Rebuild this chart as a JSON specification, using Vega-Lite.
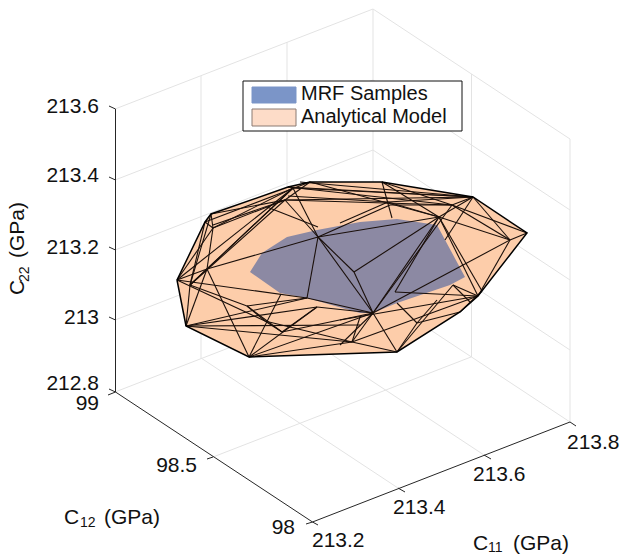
{
"$schema":"https://vega.github.io/schema/vega-lite/v6.json",
"width":622,"height":555,"padding":0,"autosize":{"type":"none"},
"background":"white","view":{"stroke":null},
"config":{"text":{"font":"Liberation Sans","fontSize":21,"color":"#111111"}},
"datasets":{
"grid":[
{"a":115,"b":109,"c":373,"d":9},{"a":115,"b":180,"c":373,"d":80},{"a":115,"b":250,"c":373,"d":150},{"a":115,"b":320,"c":373,"d":220},{"a":115,"b":392,"c":373,"d":292},
{"a":373,"b":9,"c":570,"d":139},{"a":373,"b":80,"c":570,"d":210},{"a":373,"b":150,"c":570,"d":280},{"a":373,"b":220,"c":570,"d":350},{"a":373,"b":292,"c":570,"d":422},
{"a":201,"b":359,"c":201,"d":76},{"a":287,"b":325,"c":287,"d":42},{"a":373,"b":292,"c":373,"d":9},{"a":471.5,"b":357,"c":471.5,"d":74},{"a":570,"b":422,"c":570,"d":139},
{"a":398,"b":488,"c":201,"d":358},{"a":484,"b":455,"c":287,"d":325},{"a":213,"b":457,"c":471,"d":357}
],
"axes":[
{"a":115.5,"b":109,"c":115.5,"d":392},{"a":115.5,"b":392,"c":312.5,"d":522},{"a":312.5,"b":522,"c":570,"d":422},
{"a":109,"b":106,"c":115.5,"d":109},{"a":109,"b":177,"c":115.5,"d":180},{"a":109,"b":247,"c":115.5,"d":250},{"a":109,"b":317,"c":115.5,"d":320},{"a":109,"b":389,"c":115.5,"d":392},
{"a":108,"b":395,"c":115.5,"d":392},{"a":207,"b":459,"c":213,"d":457},{"a":306,"b":524,"c":312.5,"d":522},
{"a":312.5,"b":522,"c":318,"d":525},{"a":398,"b":488,"c":405,"d":492},{"a":484,"b":455,"c":491,"d":459},{"a":570,"b":422,"c":576,"d":426}
],
"hull":[
{"o":1,"x":177,"y":280},{"o":2,"x":205,"y":222},{"o":3,"x":211,"y":214},{"o":4,"x":288,"y":187},{"o":5,"x":310,"y":182},{"o":6,"x":382,"y":182},{"o":7,"x":473,"y":197},{"o":8,"x":527,"y":233},{"o":9,"x":478,"y":296},{"o":10,"x":460,"y":312},{"o":11,"x":397,"y":352},{"o":12,"x":249,"y":357},{"o":13,"x":186,"y":326},{"o":14,"x":177,"y":280}
],
"mrf":[
{"o":1,"x":250,"y":272},{"o":2,"x":262,"y":253},{"o":3,"x":287,"y":237},{"o":4,"x":317,"y":230},{"o":5,"x":360,"y":222},{"o":6,"x":397,"y":219},{"o":7,"x":437,"y":225},{"o":8,"x":465,"y":277},{"o":9,"x":450,"y":285},{"o":10,"x":397,"y":303},{"o":11,"x":373,"y":313},{"o":12,"x":360,"y":313},{"o":13,"x":307,"y":298},{"o":14,"x":280,"y":293}
],
"mesh":[
{"a":177,"b":280,"c":213,"d":228},{"a":213,"b":228,"c":211,"d":214},{"a":213,"b":228,"c":207,"d":269},{"a":177,"b":280,"c":293,"d":188},{"a":190,"b":285,"c":285,"d":200},{"a":207,"b":269,"c":293,"d":188},{"a":207,"b":269,"c":177,"d":280},{"a":207,"b":269,"c":186,"d":326},{"a":190,"b":285,"c":186,"d":326},{"a":190,"b":285,"c":205,"d":222},{"a":190,"b":285,"c":207,"d":269},
{"a":177,"b":280,"c":307,"d":298},{"a":177,"b":280,"c":265,"d":321},{"a":190,"b":285,"c":247,"d":306},{"a":247,"b":306,"c":265,"d":321},{"a":265,"b":321,"c":282,"d":332},{"a":247,"b":306,"c":307,"d":298},{"a":186,"b":326,"c":317,"d":307},{"a":186,"b":326,"c":352,"d":342},{"a":186,"b":326,"c":307,"d":298},{"a":249,"b":357,"c":281,"d":294},{"a":249,"b":357,"c":317,"d":307},{"a":249,"b":357,"c":207,"d":269},{"a":249,"b":357,"c":352,"d":342},{"a":265,"b":321,"c":352,"d":342},{"a":282,"b":332,"c":373,"d":313},{"a":213,"b":228,"c":293,"d":188},{"a":211,"b":214,"c":285,"d":200},{"a":213,"b":228,"c":285,"d":200},{"a":285,"b":200,"c":318,"d":237},{"a":293,"b":188,"c":318,"d":237},{"a":207,"b":269,"c":318,"d":237},{"a":318,"b":237,"c":439,"d":217},{"a":318,"b":237,"c":307,"d":298},{"a":318,"b":237,"c":373,"d":313},{"a":318,"b":237,"c":354,"d":272},{"a":354,"b":272,"c":373,"d":313},{"a":307,"b":298,"c":373,"d":313},{"a":317,"b":307,"c":373,"d":313},{"a":247,"b":306,"c":282,"d":332},{"a":282,"b":332,"c":317,"d":307},
{"a":354,"b":272,"c":439,"d":217},{"a":373,"b":313,"c":439,"d":217},{"a":373,"b":313,"c":452,"d":205},{"a":395,"b":292,"c":439,"d":217},{"a":395,"b":292,"c":478,"d":296},{"a":439,"b":217,"c":478,"d":296},{"a":373,"b":313,"c":397,"d":352},{"a":373,"b":313,"c":352,"d":342},{"a":352,"b":342,"c":397,"d":352},{"a":352,"b":342,"c":478,"d":296},{"a":397,"b":352,"c":453,"d":285},{"a":397,"b":303,"c":417,"d":323},{"a":417,"b":323,"c":437,"d":300},{"a":340,"b":320,"c":478,"d":296},{"a":373,"b":313,"c":510,"d":240},{"a":452,"b":205,"c":527,"d":233},{"a":452,"b":205,"c":510,"d":240},{"a":510,"b":240,"c":527,"d":233},{"a":510,"b":240,"c":478,"d":296},{"a":473,"b":197,"c":510,"d":240},{"a":473,"b":197,"c":439,"d":217},{"a":473,"b":197,"c":452,"d":205},{"a":310,"b":182,"c":439,"d":217},{"a":382,"b":182,"c":392,"d":218},{"a":288,"b":187,"c":473,"d":197},{"a":293,"b":188,"c":473,"d":197},{"a":285,"b":200,"c":452,"d":205},{"a":288,"b":187,"c":452,"d":205},{"a":318,"b":237,"c":390,"d":205},{"a":390,"b":205,"c":452,"d":205},{"a":417,"b":323,"c":397,"d":352},{"a":417,"b":323,"c":460,"d":312},{"a":473,"b":197,"c":445,"d":240},
{"a":300,"b":182,"c":473,"d":197},{"a":285,"b":200,"c":473,"d":197},{"a":288,"b":196,"c":388,"d":202},{"a":340,"b":223,"c":388,"d":202},{"a":388,"b":202,"c":473,"d":197},{"a":388,"b":202,"c":439,"d":217},{"a":382,"b":182,"c":439,"d":217},{"a":382,"b":182,"c":452,"d":205},{"a":439,"b":217,"c":510,"d":240},{"a":310,"b":182,"c":285,"d":200},{"a":205,"b":222,"c":213,"d":228},{"a":190,"b":285,"c":293,"d":188},{"a":190,"b":285,"c":211,"d":214},{"a":213,"b":225,"c":285,"d":200},{"a":267,"b":207,"c":318,"d":227},{"a":205,"b":222,"c":310,"d":182},{"a":186,"b":326,"c":360,"d":325},{"a":249,"b":357,"c":373,"d":313},{"a":352,"b":342,"c":360,"d":317},{"a":340,"b":345,"c":373,"d":313},{"a":453,"b":285,"c":478,"d":296},{"a":453,"b":285,"c":470,"d":302},{"a":482,"b":291,"c":460,"d":312},{"a":439,"b":217,"c":482,"d":291}
],
"legendBox":[{"a":243,"b":81,"c":462,"d":131}],
"swatchBlue":[{"a":252,"b":87,"c":296,"d":103}],
"swatchPeach":[{"a":252,"b":109,"c":296,"d":126}],
"right":[
{"t":"213.6","x":99,"y":106},{"t":"213.4","x":99,"y":175},{"t":"213.2","x":99,"y":247},{"t":"213","x":99,"y":317},{"t":"212.8","x":99,"y":383},{"t":"99","x":99,"y":403},{"t":"98.5","x":197,"y":465},{"t":"98","x":295,"y":527}
],
"left":[
{"t":"213.2","x":312,"y":540},{"t":"213.4","x":393,"y":507},{"t":"213.6","x":473,"y":474},{"t":"213.8","x":567,"y":442},
{"t":"C","x":64,"y":517},{"t":"(GPa)","x":104,"y":517},{"t":"C","x":473,"y":543},{"t":"(GPa)","x":513,"y":543}
],
"legendText":[{"t":"MRF Samples","x":301,"y":93},{"t":"Analytical Model","x":301,"y":116}],
"subs":[{"t":"12","x":80,"y":523},{"t":"11","x":488,"y":548}],
"rot":[{"t":"C","x":18,"y":295},{"t":"(GPa)","x":18,"y":258}],
"rotSub":[{"t":"22","x":25,"y":282}]
},
"layer":[
{"data":{"name":"grid"},"mark":{"type":"rule","stroke":"#e3e3e3","strokeWidth":1},"encoding":{"x":{"field":"a","type":"quantitative","scale":{"domain":[0,622],"range":[0,622],"nice":false,"zero":false},"axis":null},"y":{"field":"b","type":"quantitative","scale":{"domain":[0,555],"range":[0,555],"nice":false,"zero":false},"axis":null},"x2":{"field":"c"},"y2":{"field":"d"}}},
{"data":{"name":"axes"},"mark":{"type":"rule","stroke":"#262626","strokeWidth":1},"encoding":{"x":{"field":"a","type":"quantitative"},"y":{"field":"b","type":"quantitative"},"x2":{"field":"c"},"y2":{"field":"d"}}},
{"data":{"name":"hull"},"mark":{"type":"line","filled":true,"fill":"#fdcdaa","stroke":null},"encoding":{"x":{"field":"x","type":"quantitative"},"y":{"field":"y","type":"quantitative"},"order":{"field":"o"}}},
{"data":{"name":"mrf"},"mark":{"type":"line","filled":true,"fill":"#8c89a3","stroke":null},"encoding":{"x":{"field":"x","type":"quantitative"},"y":{"field":"y","type":"quantitative"},"order":{"field":"o"}}},
{"data":{"name":"mesh"},"mark":{"type":"rule","stroke":"#1a0f0a","strokeWidth":1.1},"encoding":{"x":{"field":"a","type":"quantitative"},"y":{"field":"b","type":"quantitative"},"x2":{"field":"c"},"y2":{"field":"d"}}},
{"data":{"name":"hull"},"mark":{"type":"line","stroke":"#000000","strokeWidth":1.5},"encoding":{"x":{"field":"x","type":"quantitative"},"y":{"field":"y","type":"quantitative"},"order":{"field":"o"}}},
{"data":{"name":"legendBox"},"mark":{"type":"rect","fill":"white","stroke":"#111111","strokeWidth":1},"encoding":{"x":{"field":"a","type":"quantitative"},"y":{"field":"b","type":"quantitative"},"x2":{"field":"c"},"y2":{"field":"d"}}},
{"data":{"name":"swatchBlue"},"mark":{"type":"rect","fill":"#7b95c8","stroke":"#7b95c8","strokeWidth":1},"encoding":{"x":{"field":"a","type":"quantitative"},"y":{"field":"b","type":"quantitative"},"x2":{"field":"c"},"y2":{"field":"d"}}},
{"data":{"name":"swatchPeach"},"mark":{"type":"rect","fill":"#fddcc8","stroke":"#8a7a72","strokeWidth":1},"encoding":{"x":{"field":"a","type":"quantitative"},"y":{"field":"b","type":"quantitative"},"x2":{"field":"c"},"y2":{"field":"d"}}},
{"data":{"name":"right"},"mark":{"type":"text","align":"right","baseline":"middle","dy":1},"encoding":{"x":{"field":"x","type":"quantitative"},"y":{"field":"y","type":"quantitative"},"text":{"field":"t"}}},
{"data":{"name":"left"},"mark":{"type":"text","align":"left","baseline":"middle","dy":1},"encoding":{"x":{"field":"x","type":"quantitative"},"y":{"field":"y","type":"quantitative"},"text":{"field":"t"}}},
{"data":{"name":"legendText"},"mark":{"type":"text","align":"left","baseline":"middle","dy":1,"fontSize":20},"encoding":{"x":{"field":"x","type":"quantitative"},"y":{"field":"y","type":"quantitative"},"text":{"field":"t"}}},
{"data":{"name":"subs"},"mark":{"type":"text","align":"left","baseline":"middle","fontSize":14},"encoding":{"x":{"field":"x","type":"quantitative"},"y":{"field":"y","type":"quantitative"},"text":{"field":"t"}}},
{"data":{"name":"rot"},"mark":{"type":"text","align":"left","baseline":"middle","angle":270},"encoding":{"x":{"field":"x","type":"quantitative"},"y":{"field":"y","type":"quantitative"},"text":{"field":"t"}}},
{"data":{"name":"rotSub"},"mark":{"type":"text","align":"left","baseline":"middle","angle":270,"fontSize":14},"encoding":{"x":{"field":"x","type":"quantitative"},"y":{"field":"y","type":"quantitative"},"text":{"field":"t"}}}
]
}
